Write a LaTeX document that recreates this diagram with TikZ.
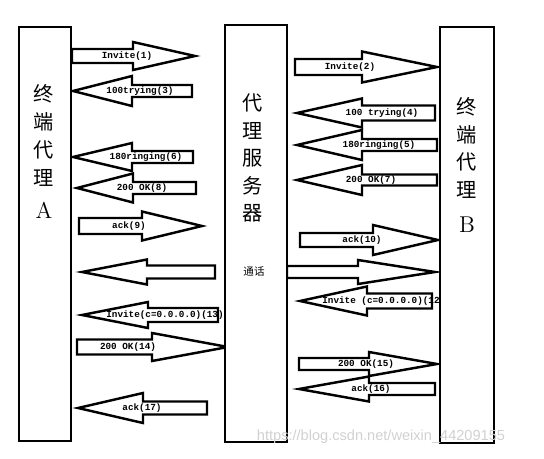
\documentclass[tikz,border=0pt]{standalone}
\usepackage{fontspec}
\setmonofont{Liberation Mono}
\setsansfont{Liberation Sans}
\newfontfamily\cjk{Noto Sans CJK SC}

\tikzset{
	agentbox/.style={draw, line width=1.6pt, fill=white, inner sep=0pt},
	blockarrow/.style={draw, line width=1.4pt, fill=white, line join=miter},
	cjkchar/.style={font=\cjk\fontsize{11.5}{13}\selectfont, inner sep=0pt},
	letterchar/.style={font=\fontsize{13}{15}\selectfont, inner sep=0pt},
	msgtext/.style={font=\ttfamily\bfseries\fontsize{5.3}{6}\selectfont, inner sep=0pt},
}

\begin{document}
\begin{tikzpicture}[x=0.02cm, y=-0.02cm]
	\useasboundingbox (0,0) rectangle (544,459);
	% messages: tail / head base / tip / y / shaft half / head half / label x / label
	\foreach \ta/\hb/\tp/\y/\s/\h/\lx/\txt [count=\i] in {
			72/133/195/56/7/14/127/Invite(1),
			192/132/73/91/6/15/140/100trying(3),
			193/132/73/157/6/14/146/180ringing(6),
			196/133/77/188/6/14.5/142/200 OK(8),
			79/142/202/226/8/14.5/129/ack(9),
			218/148/82/315/7/13/165/Invite(c=0.0.0.0)(13),
			77/152/228/347/7.5/14/128/200 OK(14),
			207/143/78/408/6.5/15/142/ack(17),
			295/362/437/67/8/15.5/350/Invite(2),
			435/362/297/113/7.5/14.5/382/100 trying(4),
			437/362/297/145/6/15/379/180ringing(5),
			437/362/297/180/5.5/15/371/200 OK(7),
			300/373/438/240/7/15/362/ack(10),
			432/367/300/301/7.5/14.5/381/Invite (c=0.0.0.0)(12,
			299/369/437/364/6/12/366/200 OK(15),
			435/369/299/389/6/12.5/371/ack(16)}
		{
			\draw[blockarrow] (\ta,\y-\s) -- (\hb,\y-\s) -- (\hb,\y-\h) -- (\tp,\y)
				-- (\hb,\y+\h) -- (\hb,\y+\s) -- (\ta,\y+\s) -- cycle;
			\node[msgtext] (msg\i) at (\lx,\y) {\txt};
		}
	% call (no label)
	\foreach \ta/\hb/\tp/\y/\s/\h in {215/147/82/272/6.5/12.5, 287/358/435/272/6/12}
		\draw[blockarrow] (\ta,\y-\s) -- (\hb,\y-\s) -- (\hb,\y-\h) -- (\tp,\y)
			-- (\hb,\y+\h) -- (\hb,\y+\s) -- (\ta,\y+\s) -- cycle;

	% the three parties
	\node[agentbox, minimum width=1.04cm, minimum height=8.28cm] (uaA) at (45,234) {};
	\node[agentbox, minimum width=1.24cm, minimum height=8.34cm] (proxy) at (256,233.5) {};
	\node[agentbox, minimum width=1.08cm, minimum height=8.32cm] (uaB) at (467,235) {};

	\foreach \c [count=\i] in {终,端,代,理}
		\node[cjkchar] (ta\i) at (44,{94+28*(\i-1)}) {\c};
	\node[letterchar] (ta5) at (44,210) {A};
	\foreach \c [count=\i] in {代,理,服,务,器}
		\node[cjkchar] (px\i) at (253,{103+27.5*(\i-1)}) {\c};
	\node[font=\cjk\fontsize{6}{7}\selectfont, inner sep=0pt] (call) at (254,272) {通话};
	\foreach \c [count=\i] in {终,端,代,理}
		\node[cjkchar] (tb\i) at (467,{107+27.5*(\i-1)}) {\c};
	\node[letterchar] (tb5) at (467,225) {B};

	\node[font=\sffamily\fontsize{8.3}{10}\selectfont, text=black!18, inner sep=0pt] (mark) at (381,437) {https://blog.csdn.net/weixin\_44209155};
\end{tikzpicture}
\end{document}
